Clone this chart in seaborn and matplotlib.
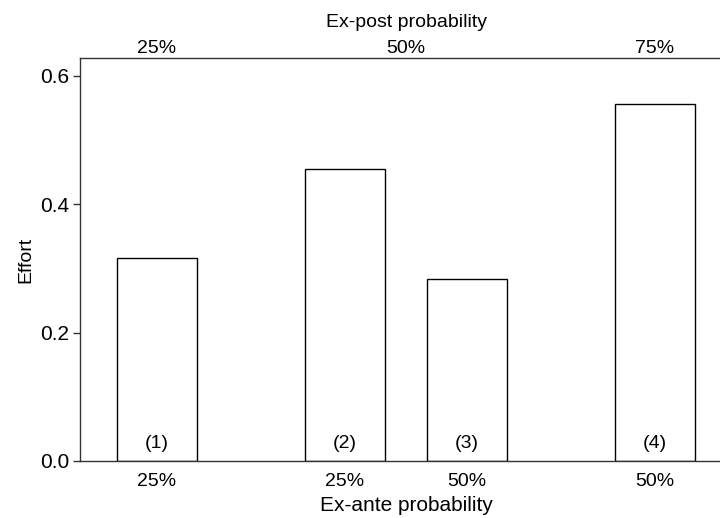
import numpy as np
import pandas as pd
import matplotlib
matplotlib.use('Agg')
import matplotlib.pyplot as plt
import seaborn as sns

sns.set_style('white')
plt.rcParams['font.family'] = ['Liberation Sans', 'DejaVu Sans']
plt.rcParams['text.color'] = 'black'
plt.rcParams['axes.labelcolor'] = 'black'
plt.rcParams['xtick.color'] = 'black'
plt.rcParams['ytick.color'] = 'black'

# data
conditions = ['(1)', '(2)', '(3)', '(4)']
effort = [0.316, 0.455, 0.284, 0.556]
ex_ante = ['25%', '25%', '50%', '50%']
ex_post = ['25%', '50%', '75%']

# layout positions of the bars (gaps between groups)
xpos = [1.0, 2.88, 4.10, 5.98]
post_pos = [1.0, 3.49, 5.98]

df = pd.DataFrame({'pos': xpos, 'effort': effort, 'cond': conditions})

fig = plt.figure(figsize=(7.2, 5.18), dpi=100)
ax = fig.add_axes([80 / 720, 1 - 461 / 518, 652 / 720, (461 - 58) / 518])

min_gap = np.min(np.diff(xpos))
sns.barplot(data=df, x='pos', y='effort', native_scale=True, width=0.8 / min_gap,
            color='white', edgecolor='black', linewidth=1.0, ax=ax, errorbar=None)
for p in ax.patches:
    p.set_facecolor('white')

for x, c in zip(xpos, conditions):
    ax.text(x, 0.027, c, ha='center', va='center', fontsize=14)

ax.set_xlim(0.23, 6.75)
ax.set_ylim(0, 0.628)
ax.set_yticks([0.0, 0.2, 0.4, 0.6])
ax.set_yticklabels(['0.0', '0.2', '0.4', '0.6'], fontsize=15)
ax.tick_params(axis='y', length=5, width=1, color='#333333', left=True, pad=3)
ax.set_xticks(xpos)
ax.set_xticklabels(ex_ante, fontsize=14)
ax.tick_params(axis='x', length=0, pad=9)
ax.set_xlabel('Ex-ante probability', fontsize=15, labelpad=4)
ax.set_ylabel('Effort', fontsize=14, labelpad=4)

for s in ['left', 'top', 'bottom', 'right']:
    ax.spines[s].set_color('#333333')
    ax.spines[s].set_linewidth(1.0)

top = ax.secondary_xaxis('top')
top.set_xticks(post_pos)
top.set_xticklabels(ex_post, fontsize=14)
top.tick_params(length=0, pad=1)
top.set_xlabel('Ex-post probability', fontsize=14, labelpad=9)
top.spines['top'].set_visible(False)

fig.savefig('out.png', dpi=100)
